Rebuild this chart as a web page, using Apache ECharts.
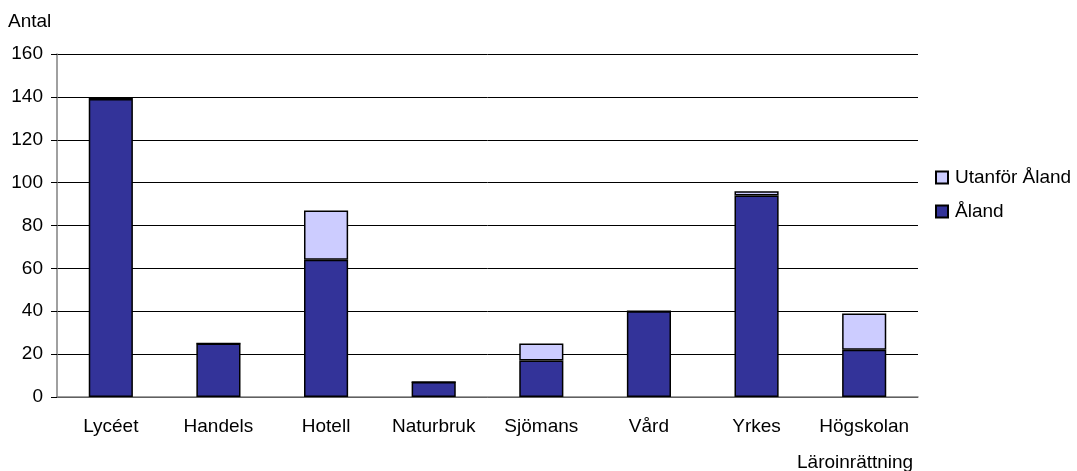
<!DOCTYPE html>
<html>
<head>
<meta charset="utf-8">
<script src="https://cdn.jsdelivr.net/npm/echarts@6/dist/echarts.min.js"></script>
<style>
html,body{margin:0;padding:0;background:#fff;}
#chart{width:1077px;height:471px;}
</style>
</head>
<body>
<div id="chart"></div>
<script>
const categories = ['Lycéet', 'Handels', 'Hotell', 'Naturbruk', 'Sjömans', 'Vård', 'Yrkes', 'Högskolan'];
const aland = [139, 25, 64, 7, 17, 40, 94, 22];
const utanfor = [1, 0, 23, 0, 8, 0, 2, 17];
const yTicks = [0, 20, 40, 60, 80, 100, 120, 140, 160];
const seriesNames = ['Åland', 'Utanför Åland'];

const font = '"Liberation Sans", Arial, sans-serif';
const fs = 19;
const chart = echarts.init(document.getElementById('chart'));
chart.setOption({
  animation: false,
  backgroundColor: '#fff',
  textStyle: { fontFamily: font },
  grid: { left: 57, right: 159, top: 54, bottom: 74, containLabel: false },
  title: [
    { text: 'Antal', left: 8, top: 12, padding: 0, textStyle: { fontFamily: font, fontSize: fs, fontWeight: 'normal', color: '#000' } },
    { text: 'Läroinrättning', left: 797, top: 453, padding: 0, textStyle: { fontFamily: font, fontSize: fs, fontWeight: 'normal', color: '#000' } }
  ],
  legend: {
    orient: 'vertical',
    left: 935,
    top: 168,
    padding: 0,
    itemWidth: 12,
    itemHeight: 12,
    itemGap: 15,
    data: [seriesNames[1], seriesNames[0]],
    textStyle: { fontFamily: font, fontSize: fs, color: '#000', padding: [0, 0, 0, 2] },
    icon: 'rect'
  },
  xAxis: {
    type: 'category',
    data: categories,
    axisLine: { lineStyle: { color: '#808080', width: 1.5 } },
    axisTick: { show: false },
    axisLabel: { color: '#000', fontSize: fs, margin: 20, fontFamily: font, interval: 0 }
  },
  yAxis: {
    type: 'value',
    min: yTicks[0],
    max: yTicks[yTicks.length - 1],
    interval: 20,
    axisLine: { show: true, lineStyle: { color: '#808080', width: 1.5 } },
    axisTick: { show: true, length: 6, lineStyle: { color: '#000' } },
    axisLabel: { color: '#000', fontSize: fs, margin: 14, fontFamily: font },
    splitLine: { lineStyle: { color: '#000', width: 1 } }
  },
  series: [
    {
      name: seriesNames[0], type: 'bar', stack: 'a', data: aland, barWidth: '41%',
      itemStyle: { color: '#333399', borderColor: '#000', borderWidth: 1.5 }
    },
    {
      name: seriesNames[1], type: 'bar', stack: 'a', data: utanfor, barWidth: '41%',
      itemStyle: { color: '#CCCCFF', borderColor: '#000', borderWidth: 1.5 }
    }
  ]
});
</script>
</body>
</html>
